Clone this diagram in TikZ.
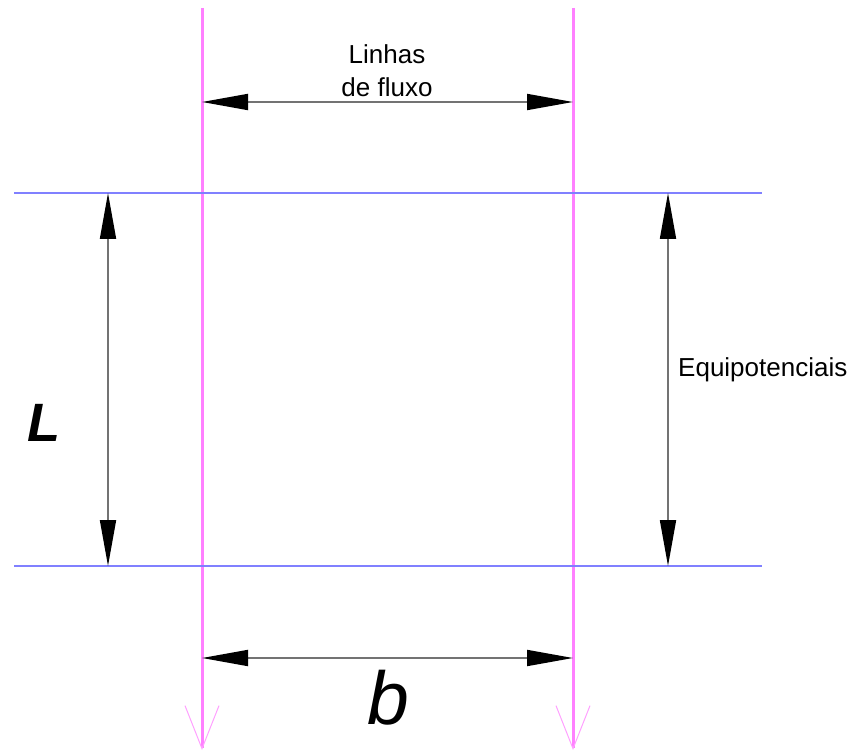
\documentclass[tikz,border=0pt]{standalone}
\usepackage{fontspec}
\setmainfont{Liberation Sans}
\usetikzlibrary{arrows.meta, positioning}

\definecolor{fluxcol}{RGB}{255,128,255}
\definecolor{equicol}{RGB}{128,128,255}

\begin{document}
\begin{tikzpicture}[x=1pt, y=-1pt,
    fluxo/.style={line width=3pt, color=fluxcol,
        -{Straight Barb[length=43pt, width=34pt, line width=1pt, color=fluxcol!75]}},
    equip/.style={line width=2.4pt, color=equicol},
    cota/.style={line width=1.8pt, color=black!55,
        {Triangle[length=46pt, width=16pt, color=black]}-{Triangle[length=46pt, width=16pt, color=black]}},
    rotulo/.style={font=\fontsize{26}{33}\selectfont, align=center, inner sep=0pt}]
    \useasboundingbox (0,0) rectangle (851,751);

    % Pontos das linhas de fluxo
    \coordinate (f1a) at (202,8);
    \coordinate (f1b) at (202,750);
    \coordinate (f2a) at (573,8);
    \coordinate (f2b) at (573,750);

    % Pontos das equipotenciais
    \coordinate (e1a) at (14,193);
    \coordinate (e1b) at (762,193);
    \coordinate (e2a) at (14,566);
    \coordinate (e2b) at (762,566);

    % Linhas de fluxo
    \draw[fluxo] (f1a) -- (f1b);
    \draw[fluxo] (f2a) -- (f2b);

    % Equipotenciais
    \draw[equip] (e1a) -- (e1b);
    \draw[equip] (e2a) -- (e2b);

    % Cotas
    \coordinate (cta) at (202,102);
    \coordinate (ctb) at (573,102);
    \coordinate (cba) at (202,658);
    \coordinate (cbb) at (573,658);
    \coordinate (cea) at (108,193);
    \coordinate (ceb) at (108,566);
    \coordinate (cda) at (668,193);
    \coordinate (cdb) at (668,566);
    \draw[cota] (cta) -- (ctb);
    \draw[cota] (cba) -- (cbb);
    \draw[cota] (cea) -- (ceb);
    \draw[cota] (cda) -- (cdb);

    % Textos
    \node[rotulo] (fluxo) at (387,71) {Linhas\\de fluxo};
    \node[rotulo, anchor=west] (equipot) at (678,370) {Equipotenciais};
    \node[font=\fontsize{54}{54}\selectfont\bfseries\itshape, inner sep=0pt] (compr) at (44,423) {L};
    \node[font=\fontsize{75}{75}\selectfont\itshape, inner sep=0pt] (largura) at (388,698) {b};
\end{tikzpicture}
\end{document}
